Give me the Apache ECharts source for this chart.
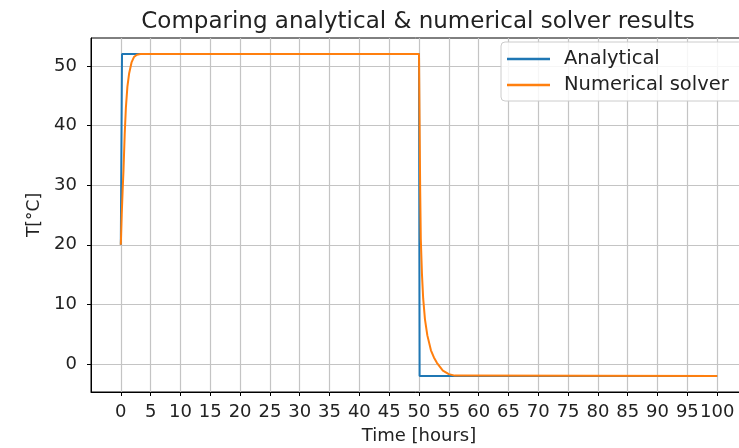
<!DOCTYPE html>
<html>
<head>
<meta charset="utf-8">
<script src="https://cdn.jsdelivr.net/npm/echarts@6/dist/echarts.min.js"></script>
<style>
  html, body { margin: 0; padding: 0; background: #fff; }
  #chart { width: 739px; height: 448px; }
</style>
</head>
<body>
<div id="chart"></div>
<script>
// Analytical step response: time [h] and temperature [°C]
const analyticalTime = [0, 0.2, 50, 50.1, 100];
const analyticalTemp = [20, 52, 52, -2, -2];

// Numerical solver output: time [h] and temperature [°C]
const numericalTime = [0, 0.15, 0.3, 0.45, 0.65, 0.85, 1.1, 1.4, 1.8, 2.2, 2.7, 3.3, 50,
  50.1, 50.2, 50.3, 50.5, 50.7, 51, 51.4, 52, 52.5, 53, 54, 55, 56, 100];
const numericalTemp = [20, 25, 29, 32.5, 38.5, 43, 46.5, 48.8, 50.6, 51.5, 51.9, 52, 52,
  40, 29, 21, 15, 11, 7.5, 4.8, 2.3, 1.1, 0.2, -1.1, -1.7, -1.95, -2];

// Tick values
const xTicks = [0, 5, 10, 15, 20, 25, 30, 35, 40, 45, 50, 55, 60, 65, 70, 75, 80, 85, 90, 95, 100];
const yTicks = [0, 10, 20, 30, 40, 50];

const seriesNames = ['Analytical', 'Numerical solver'];
const seriesColors = ['#1f77b4', '#ff7f0e'];

const zip = (xs, ys) => xs.map((x, i) => [x, ys[i]]);

const font = 'DejaVu Sans';
const textColor = '#222';

const chart = echarts.init(document.getElementById('chart'));
chart.setOption({
  animation: false,
  backgroundColor: '#fff',
  title: {
    text: 'Comparing analytical & numerical solver results',
    left: 413,
    textAlign: 'center',
    top: 6,
    textStyle: { fontFamily: font, fontSize: 23, fontWeight: 'normal', color: textColor }
  },
  legend: {
    data: seriesNames,
    orient: 'vertical',
    left: 501,
    top: 42,
    icon: 'rect',
    itemWidth: 43,
    itemHeight: 2.5,
    itemGap: 6,
    padding: [7, 14, 6, 6],
    backgroundColor: 'rgba(255,255,255,0.85)',
    borderColor: '#cccccc',
    borderWidth: 1,
    borderRadius: 4,
    textStyle: { fontFamily: font, fontSize: 19.5, color: textColor, padding: [0, 0, 0, 9] }
  },
  grid: {
    left: 91,
    top: 38,
    width: 656,
    height: 354,
    outerBoundsMode: 'none',
    show: true,
    borderColor: '#000',
    borderWidth: 1,
    containLabel: false
  },
  xAxis: {
    type: 'value',
    min: -5,
    max: 105,
    name: 'Time [hours]',
    nameLocation: 'middle',
    nameGap: 35,
    nameTextStyle: { fontFamily: font, fontSize: 18, color: textColor },
    axisLine: { show: true, onZero: false, lineStyle: { color: '#000', width: 1 } },
    axisTick: { show: true, length: 4, customValues: xTicks, lineStyle: { color: '#000' } },
    axisLabel: { customValues: xTicks, margin: 11, fontFamily: font, fontSize: 18, color: textColor },
    splitLine: { show: true, lineStyle: { color: '#c4c4c4', width: 1.2 } }
  },
  yAxis: {
    type: 'value',
    min: -4.7,
    max: 54.7,
    name: 'T[°C]',
    nameLocation: 'middle',
    nameGap: 45,
    nameRotate: 90,
    nameTextStyle: { fontFamily: font, fontSize: 17, color: textColor },
    axisLine: { show: true, onZero: false, lineStyle: { color: '#000', width: 1 } },
    axisTick: { show: true, length: 4, customValues: yTicks, lineStyle: { color: '#000' } },
    axisLabel: { customValues: yTicks, margin: 14, fontFamily: font, fontSize: 18, color: textColor },
    splitLine: { show: true, lineStyle: { color: '#c4c4c4', width: 1.2 } }
  },
  series: [
    {
      name: seriesNames[0],
      type: 'line',
      data: zip(analyticalTime, analyticalTemp),
      showSymbol: false,
      symbol: 'none',
      color: seriesColors[0],
      lineStyle: { color: seriesColors[0], width: 2 }
    },
    {
      name: seriesNames[1],
      type: 'line',
      data: zip(numericalTime, numericalTemp),
      showSymbol: false,
      symbol: 'none',
      color: seriesColors[1],
      lineStyle: { color: seriesColors[1], width: 2 }
    }
  ]
});
</script>
</body>
</html>
